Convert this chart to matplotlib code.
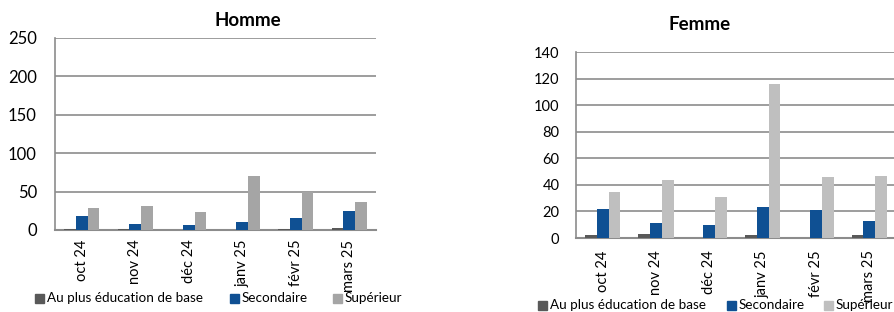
import matplotlib
matplotlib.use("Agg")
import matplotlib.pyplot as plt
from matplotlib.patches import Rectangle
import numpy as np

plt.rcParams['font.family'] = ['Lato', 'DejaVu Sans']

categories = ["oct 24", "nov 24", "déc 24", "janv 25", "févr 25", "mars 25"]
series_names = ["Au plus éducation de base", "Secondaire", "Supérieur"]

homme_base = [1, 1, 0, 0, 1, 2]
homme_sec = [18, 8, 7, 10, 15, 25]
homme_sup = [29, 31, 23, 70, 49, 36]

femme_base = [2, 3, 0, 2, 0, 2]
femme_sec = [22, 11, 10, 23, 21, 13]
femme_sup = [35, 44, 31, 116, 46, 47]

homme_ticks = [0, 50, 100, 150, 200, 250]
femme_ticks = [0, 20, 40, 60, 80, 100, 120, 140]

W, H = 894, 312
fig = plt.figure(figsize=(W / 100, H / 100), dpi=100)

c_base = "#595959"
c_sec = "#0F5093"
grid_c = "#8C8C8C"


def px_axes(left, top, right, bottom):
    return fig.add_axes([left / W, (H - bottom) / H, (right - left) / W, (bottom - top) / H])


def draw(ax, base, sec, sup, sup_color, ticks, ytick_size, ypad, xpad):
    x = np.arange(len(categories))
    w = 0.22
    ax.bar(x - w, base, w, color=c_base, zorder=3)
    ax.bar(x, sec, w, color=c_sec, zorder=3)
    ax.bar(x + w, sup, w, color=sup_color, zorder=3)
    ax.set_xlim(-0.5, len(categories) - 0.5)
    ax.set_ylim(0, ticks[-1])
    ax.set_yticks(ticks)
    ax.set_xticks(x)
    ax.set_xticklabels(categories, rotation=90, fontsize=10.5, color="#000000")
    ax.tick_params(axis='y', length=0, pad=ypad, labelsize=ytick_size, colors="#000000")
    ax.tick_params(axis='x', length=0, pad=xpad)
    ax.grid(axis='y', color=grid_c, linewidth=1.2, zorder=0)
    for s in ["top", "right"]:
        ax.spines[s].set_visible(False)
    ax.spines["left"].set_color(grid_c)
    ax.spines["bottom"].set_color(grid_c)
    ax.spines["left"].set_linewidth(1.2)
    ax.spines["bottom"].set_linewidth(1.5)
    ax.set_facecolor("none")


ax1 = px_axes(55, 38, 376, 230)
draw(ax1, homme_base, homme_sec, homme_sup, "#A5A5A5", homme_ticks, 12, 13, 7)
fig.text(248 / W, 1 - 21 / H, "Homme", ha="center", va="center", fontsize=13.5, fontweight="bold")

ax2 = px_axes(576, 52, 896, 238)
draw(ax2, femme_base, femme_sec, femme_sup, "#BFBFBF", femme_ticks, 10.5, 12, 9)
fig.text(700 / W, 1 - 25 / H, "Femme", ha="center", va="center", fontsize=13.5, fontweight="bold")


def legend(colors, squares_x, y, fs):
    sq = 9
    for name, col, sx in zip(series_names, colors, squares_x):
        fig.add_artist(Rectangle((sx / W, (H - y - sq / 2) / H), sq / W, sq / H,
                                 transform=fig.transFigure, color=col, zorder=6))
        fig.text((sx + sq + 3) / W, 1 - y / H, name, ha="left", va="center",
                 fontsize=fs, zorder=7)


legend([c_base, c_sec, "#A5A5A5"], [35, 230, 333], 298, 9.7)
legend([c_base, c_sec, "#BFBFBF"], [538, 727, 824], 305, 9.7)

fig.savefig("out.png", dpi=100)
